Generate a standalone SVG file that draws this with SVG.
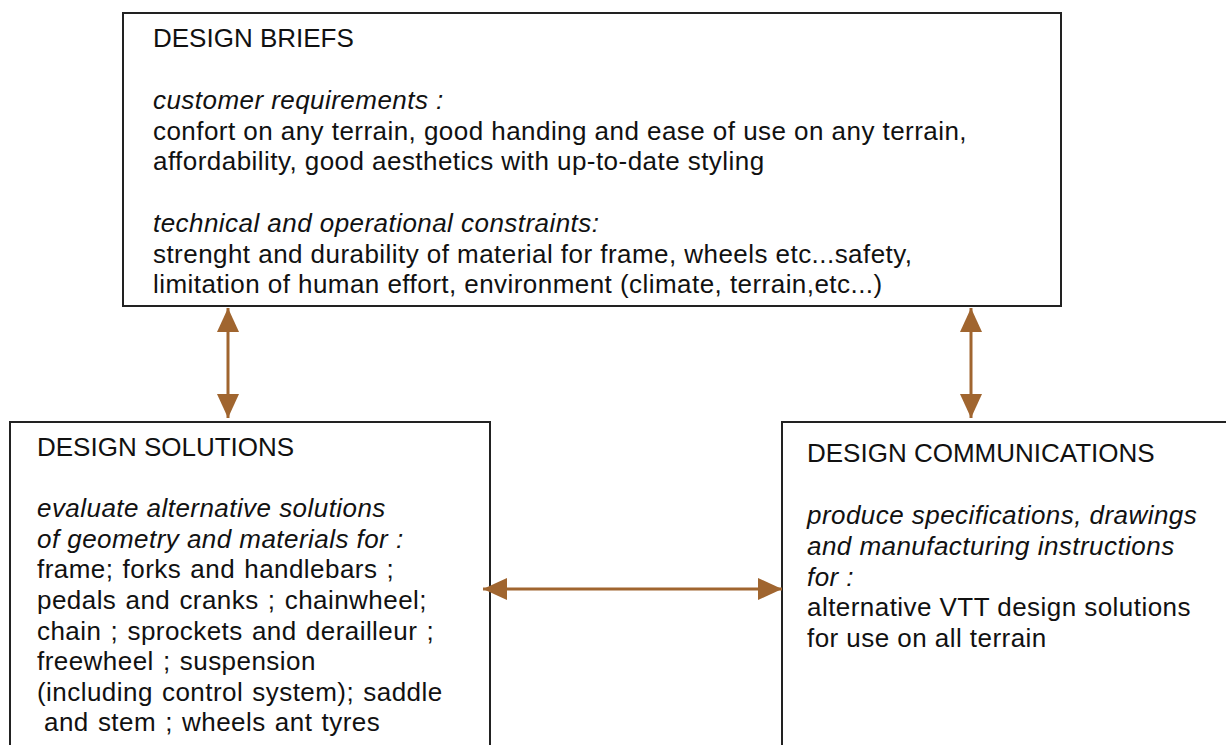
<svg xmlns="http://www.w3.org/2000/svg" width="1226" height="745" viewBox="0 0 1226 745">
<style>
.box{fill:#ffffff;stroke:#222222;stroke-width:2}
text{font-family:"Liberation Sans",Arial,sans-serif;font-size:26px;fill:#111111}
.b{letter-spacing:0.45px}
.it{font-style:italic;letter-spacing:0.45px}
.ws{word-spacing:1.5px}
.con{stroke:#a0652f;stroke-width:3;fill:none}
</style>
<defs>
<marker id="ah" viewBox="0 0 24 22" refX="24" refY="11" markerWidth="24" markerHeight="22" markerUnits="userSpaceOnUse" orient="auto-start-reverse">
<path d="M0,0 L24,11 L0,22 Z" fill="#a0652f"/>
</marker>
</defs>
<rect width="1226" height="745" fill="#ffffff"/>
<g id="design-briefs">
<rect class="box" x="123" y="13" width="938" height="293"/>
<text x="153" y="47">DESIGN BRIEFS</text>
<text x="153" y="109" class="it">customer requirements :</text>
<text x="153" y="140" class="b">confort on any terrain, good handing and ease of use on any terrain,</text>
<text x="153" y="170" class="b">affordability, good aesthetics with up-to-date styling</text>
<text x="153" y="232" class="it">technical and operational constraints:</text>
<text x="153" y="263" class="b">strenght and durability of material for frame, wheels etc...safety,</text>
<text x="153" y="293" class="b">limitation of human effort, environment (climate, terrain,etc...)</text>
</g>
<g id="design-solutions">
<rect class="box" x="10" y="422" width="480" height="340"/>
<text x="37" y="456">DESIGN SOLUTIONS</text>
<text x="37" y="517" class="it">evaluate alternative solutions</text>
<text x="37" y="548" class="it">of geometry and materials for :</text>
<text x="37" y="578" class="b ws">frame; forks and handlebars ;</text>
<text x="37" y="609" class="b ws">pedals and cranks ; chainwheel;</text>
<text x="37" y="640" class="b ws">chain ; sprockets and derailleur ;</text>
<text x="37" y="670" class="b ws">freewheel ; suspension</text>
<text x="37" y="701" class="b ws">(including control system); saddle</text>
<text x="44" y="731" class="b ws">and stem ; wheels ant tyres</text>
</g>
<g id="design-communications">
<rect class="box" x="782" y="422" width="470" height="340"/>
<text x="807" y="462">DESIGN COMMUNICATIONS</text>
<text x="807" y="524" class="it">produce specifications, drawings</text>
<text x="807" y="555" class="it">and manufacturing instructions</text>
<text x="807" y="586" class="it">for :</text>
<text x="807" y="616" class="b">alternative VTT design solutions</text>
<text x="807" y="647" class="b">for use on all terrain</text>
</g>
<g id="connectors">
<line class="con" x1="228" y1="308" x2="228" y2="418" marker-start="url(#ah)" marker-end="url(#ah)"/>
<line class="con" x1="971" y1="308" x2="971" y2="418" marker-start="url(#ah)" marker-end="url(#ah)"/>
<line class="con" x1="483" y1="589" x2="782" y2="589" marker-start="url(#ah)" marker-end="url(#ah)"/>
</g>
</svg>
